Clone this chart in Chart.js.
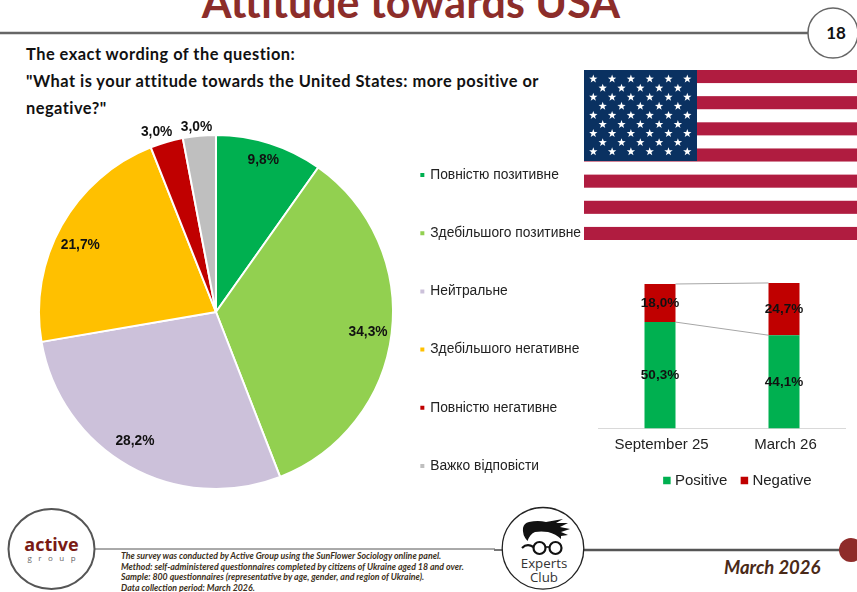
<!DOCTYPE html>
<html>
<head>
<meta charset="utf-8">
<title>Attitude towards USA</title>
<script src="https://cdn.jsdelivr.net/npm/chart.js@4"></script>
<style>
  html, body { margin: 0; padding: 0; background: #fff; }
  #page { position: relative; width: 857px; height: 592px; overflow: hidden; font-family: "Liberation Sans", Arial, sans-serif; }
  #page > * { position: absolute; }
  #decor { left: 0; top: 0; }
  h1 { margin: 0; left: 0; width: 822px; text-align: center; top: -24px; font: bold 43px/52px Lato, sans-serif; color: #8c2d2a; white-space: nowrap; }
  .question { left: 26px; font: bold 16.4px/20px Lato, sans-serif; color: #111; white-space: nowrap; letter-spacing: 0.48px; }
  .page-no { left: 808px; width: 56px; top: 22px; text-align: center; font: bold 17px/22px Lato, sans-serif; color: #111; }
  #notes { left: 121px; top: 551px; font: italic bold 8.8px/10.6px Lato, sans-serif; color: #3b2f20; white-space: nowrap; }
  .period { left: 724px; top: 556px; font: italic bold 18.5px/22px Lato, sans-serif; color: #4a2a18; white-space: nowrap; }
  .brand { color: #7a1a14; left: 8px; width: 87px; text-align: center; top: 533px; font: bold 18px/22px "Open Sans", sans-serif; }
  .brand-sub { left: 8px; width: 87px; text-align: center; text-indent: 6.5px; top: 553px; font: 8px/10px "Open Sans", sans-serif; letter-spacing: 6.5px; color: #666; }
  .club { left: 503px; width: 82px; text-align: center; top: 557px; font: 13.3px/13.6px "Open Sans", sans-serif; color: #333; }
  #pieCanvas { left: 0; top: 112px; }
  #barCanvas { left: 598px; top: 270px; }
</style>
</head>
<body>
<div id="page">
  <svg id="decor" width="857" height="592" xmlns="http://www.w3.org/2000/svg">
    <line x1="0" y1="33" x2="808" y2="33" stroke="#666" stroke-width="2.5"/>
    <circle cx="833" cy="33" r="25" fill="#fff" stroke="#666" stroke-width="1.5"/>
    <g id="flag"></g>
    <line x1="95" y1="549" x2="495" y2="549" stroke="#555" stroke-width="1"/>
    <line x1="494" y1="550" x2="503" y2="550" stroke="#777" stroke-width="2"/>
    <line x1="584" y1="550" x2="845" y2="550" stroke="#555" stroke-width="2.5"/>
    <circle cx="851" cy="550" r="12" fill="#8f2c2a"/>
    <ellipse cx="51.5" cy="549" rx="43" ry="40" fill="#fff" stroke="#555" stroke-width="2"/>
    <circle cx="543" cy="548.3" r="40.8" fill="#fff" stroke="#222" stroke-width="1.3"/>
    <!-- experts club mascot: hair and glasses -->
    <path d="M527.5 541 Q522 535 523 528 Q524 523 529 522 Q538 520 546 522 L563 519 L556 523 L568 523 L560 527 L570 529 L561 532 L568 535 L561 536 L561 539 Q556 534 548 532 Q541 531 535 532 Q530 534 527.5 541 Z" fill="#111"/>
    <circle cx="539.5" cy="548" r="6" fill="none" stroke="#111" stroke-width="2.2"/>
    <circle cx="555.5" cy="548" r="6" fill="none" stroke="#111" stroke-width="2.2"/>
    <line x1="545.5" y1="547" x2="549.5" y2="547" stroke="#111" stroke-width="1.6"/>
    <path d="M533.5 547 Q527 543 522 548" fill="none" stroke="#111" stroke-width="2.2"/>
  </svg>

  <h1>Attitude towards USA</h1>
  <div class="page-no">18</div>
  <div class="question" style="top:44px">The exact wording of the question:</div>
  <div class="question" style="top:71px">"What is your attitude towards the United States: more positive or</div>
  <div class="question" style="top:98px">negative?"</div>

  <canvas id="pieCanvas" width="591" height="400"></canvas>
  <canvas id="barCanvas" width="248" height="233"></canvas>

  <div class="brand">active</div>
  <div class="brand-sub">group</div>
  <div class="club">Experts<br>Club</div>
  <div id="notes">
    The survey was conducted by Active Group using the SunFlower Sociology online panel.<br>
    Method: self-administered questionnaires completed by citizens of Ukraine aged 18 and over.<br>
    Sample: 800 questionnaires (representative by age, gender, and region of Ukraine).<br>
    Data collection period: March 2026.
  </div>
  <div class="period">March 2026</div>
</div>

<script>
// attitude breakdown, percent
const attitudeLabels = ['Повністю позитивне', 'Здебільшого позитивне', 'Нейтральне', 'Здебільшого негативне', 'Повністю негативне', 'Важко відповісти'];
const attitudeValues = [9.8, 34.3, 28.2, 21.7, 3.0, 3.0];
const attitudeColors = ['#00b050', '#92d050', '#ccc1da', '#ffc000', '#c00000', '#bfbfbf'];

// pie label placement: share of the radius, then a small hand nudge in px
const labelDistance = [0.9, 0.86, 0.86, 0.86, 1.06, 1.05];
const labelNudge = [[-1, 0], [1, 2], [-6, -3], [-3, 8], [-7, 0], [-2, 0]];

// positive vs negative over time
const waves = ['September 25', 'March 26'];
const positiveValues = [50.3, 44.1];
const negativeValues = [18.0, 24.7];

const FONT = '"Liberation Sans", Arial, sans-serif';
const formatPercent = (v) => v.toFixed(1).replace('.', ',') + '%';

// stars and stripes, plain svg
const drawFlag = () => {
    const ns = 'http://www.w3.org/2000/svg';
    const flag = document.getElementById('flag');
    const add = (tag, attrs) => {
        const el = document.createElementNS(ns, tag);
        Object.entries(attrs).forEach(([k, v]) => el.setAttribute(k, v));
        flag.appendChild(el);
    };
    const stripe = 170 / 13;
    for (let i = 0; i < 13; i += 2) {
        add('rect', { x: 584, y: 70 + i * stripe, width: 273, height: stripe, fill: '#b01c40' });
    }
    add('rect', { x: 584, y: 70, width: 113, height: 91, fill: '#0a3161' });
    const star = (cx, cy) => {
        let pts = '';
        for (let k = 0; k < 10; k++) {
            const r = k % 2 ? 1.8 : 4.4;
            const a = -Math.PI / 2 + k * Math.PI / 5;
            pts += (cx + r * Math.cos(a)).toFixed(2) + ',' + (cy + r * Math.sin(a)).toFixed(2) + ' ';
        }
        add('polygon', { points: pts, fill: '#fff' });
    };
    for (let row = 0; row < 9; row++) {
        const odd = row % 2 === 1;
        for (let col = 0; col < (odd ? 5 : 6); col++) {
            star(593.3 + (odd ? 9.4 : 0) + col * 18.8, 79 + row * 9.08);
        }
    }
};
drawFlag();

// slides a chart's legend off its default slot
const moveLegend = (dx, dy) => ({
    id: 'moveLegend',
    afterLayout(chart) {
        chart.legend.left += dx;
        chart.legend.right += dx;
        chart.legend.top += dy;
        chart.legend.bottom += dy;
    }
});

// value labels around the pie, placed from each arc's own angle
const pieLabels = {
    id: 'pieLabels',
    afterDatasetsDraw(chart) {
        const { ctx } = chart;
        ctx.save();
        ctx.font = 'bold 13.8px ' + FONT;
        ctx.fillStyle = '#111';
        ctx.textAlign = 'center';
        ctx.textBaseline = 'middle';
        chart.getDatasetMeta(0).data.forEach((arc, i) => {
            const angle = (arc.startAngle + arc.endAngle) / 2;
            const r = arc.outerRadius * labelDistance[i];
            const x = arc.x + r * Math.cos(angle) + labelNudge[i][0];
            const y = arc.y + r * Math.sin(angle) + labelNudge[i][1];
            ctx.fillText(formatPercent(attitudeValues[i]), x, y);
        });
        ctx.restore();
    }
};

new Chart(document.getElementById('pieCanvas'), {
    type: 'pie',
    data: {
        labels: attitudeLabels,
        datasets: [{
            data: attitudeValues,
            backgroundColor: attitudeColors,
            borderColor: '#fff',
            borderWidth: 2,
            radius: 177
        }]
    },
    options: {
        responsive: false,
        animation: false,
        layout: { padding: { left: 55, right: 0, top: 0, bottom: 0 } },
        plugins: {
            tooltip: { enabled: false },
            legend: {
                position: 'right',
                labels: {
                    usePointStyle: true,
                    pointStyle: 'rect',
                    boxWidth: 2,
                    boxHeight: 6,
                    padding: 44.4,
                    color: '#222',
                    font: { family: FONT, size: 13.8 }
                }
            }
        }
    },
    plugins: [pieLabels, moveLegend(0, 8.5)]
});

// stacked bars with series lines and centred value labels
const barExtras = {
    id: 'barExtras',
    beforeDatasetsDraw(chart) {
        const { ctx } = chart;
        const pos = chart.getDatasetMeta(0).data;
        const neg = chart.getDatasetMeta(1).data;
        ctx.save();
        ctx.strokeStyle = '#a6a6a6';
        ctx.lineWidth = 1;
        [pos, neg].forEach((bars) => {
            ctx.beginPath();
            ctx.moveTo(bars[0].x + bars[0].width / 2, bars[0].y);
            ctx.lineTo(bars[1].x - bars[1].width / 2, bars[1].y);
            ctx.stroke();
        });
        ctx.restore();
    },
    afterDatasetsDraw(chart) {
        const { ctx } = chart;
        ctx.save();
        ctx.font = 'bold 13.5px ' + FONT;
        ctx.fillStyle = '#111';
        ctx.textAlign = 'center';
        ctx.textBaseline = 'middle';
        chart.data.datasets.forEach((ds, d) => {
            chart.getDatasetMeta(d).data.forEach((bar, i) => {
                ctx.fillText(formatPercent(ds.data[i]), bar.x, (bar.y + bar.base) / 2);
            });
        });
        ctx.restore();
    }
};

new Chart(document.getElementById('barCanvas'), {
    type: 'bar',
    data: {
        labels: waves,
        datasets: [
            { label: 'Positive', data: positiveValues, backgroundColor: '#00b050' },
            { label: 'Negative', data: negativeValues, backgroundColor: '#c00000' }
        ]
    },
    options: {
        responsive: false,
        animation: false,
        datasets: { bar: { categoryPercentage: 1, barPercentage: 0.25 } },
        layout: { padding: { left: 0, right: 0, top: 10.4, bottom: 0 } },
        scales: {
            x: {
                stacked: true,
                grid: { display: false, drawTicks: false },
                border: { color: '#d9d9d9', width: 1 },
                ticks: { color: '#222', font: { family: FONT, size: 15 }, padding: 7.5, labelOffset: 1.5, maxRotation: 0 }
            },
            y: { stacked: true, display: false, min: 0, max: 70 }
        },
        plugins: {
            tooltip: { enabled: false },
            legend: {
                position: 'bottom',
                labels: {
                    usePointStyle: true,
                    pointStyle: 'rect',
                    boxWidth: 1,
                    boxHeight: 7.5,
                    padding: 16.5,
                    color: '#222',
                    font: { family: FONT, size: 15 }
                }
            }
        }
    },
    plugins: [barExtras, moveLegend(17, -5)]
});
</script>
</body>
</html>
